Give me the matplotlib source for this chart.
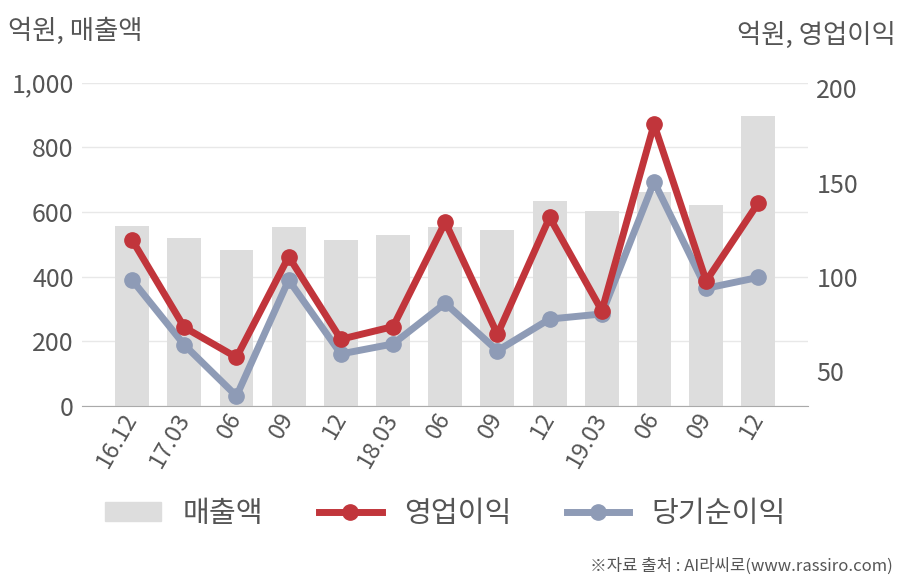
import matplotlib
matplotlib.use("Agg")
import matplotlib.pyplot as plt
from matplotlib.lines import Line2D
from matplotlib.patches import Patch, Rectangle
from matplotlib.legend_handler import HandlerPatch

plt.rcParams['font.family'] = ['Noto Sans CJK KR', 'DejaVu Sans']

categories = ["16.12", "17.03", "06", "09", "12", "18.03", "06", "09", "12", "19.03", "06", "09", "12"]
sales = [557, 520, 483, 555, 513, 529, 555, 544, 634, 603, 663, 622, 898]
op_profit = [119.6, 73.3, 57.4, 110.8, 67.0, 73.7, 129.1, 69.6, 131.6, 82.1, 180.9, 97.9, 139.4]
net_income = [98.4, 64.0, 36.9, 98.4, 59.2, 64.5, 86.1, 60.9, 77.7, 80.4, 150.5, 94.0, 99.8]
left_ticks = [0, 200, 400, 600, 800, 1000]
right_ticks = [50, 100, 150, 200]

bar_color = "#dddddd"
red = "#c1353b"
blue = "#8e9bb6"
txt = "#555555"

fig = plt.figure(figsize=(9.08, 5.8), dpi=100)
ax = fig.add_axes([82/908, 1-406/580, (808-82)/908, (406-82.7)/580])
x = list(range(len(categories)))
ax.bar(x, sales, width=0.65, color=bar_color, zorder=2)
ax.set_ylim(0, 1000)
ax.set_xlim(-0.96, 12.95)
ax.set_yticks(left_ticks)
ax.set_yticklabels([f"{v:,}" for v in left_ticks])
ax.grid(axis='y', color="#e8e8e8", linewidth=1, zorder=0)
ax.set_axisbelow(True)
for s in ['top', 'right', 'left']:
    ax.spines[s].set_visible(False)
ax.spines['bottom'].set_color("#aaaaaa")
ax.tick_params(axis='y', length=0, labelsize=18, labelcolor=txt, pad=6)
ax.tick_params(axis='x', length=0, labelsize=17, labelcolor=txt, pad=6)
ax.set_xticks(x)
ax.set_xticklabels(categories, rotation=60, ha='right', va='center', rotation_mode='anchor')

ax2 = ax.twinx()
ax2.set_ylim(31.6, 203)
ax2.plot(x, op_profit, color=red, lw=5, marker='o', ms=11, zorder=4)
ax2.plot(x, net_income, color=blue, lw=5, marker='o', ms=11, zorder=3)
ax2.set_yticks(right_ticks)
ax2.tick_params(axis='y', length=0, labelsize=18, labelcolor=txt, pad=6)
for s in ['top', 'right', 'left', 'bottom']:
    ax2.spines[s].set_visible(False)
ax.set_zorder(1)
ax2.set_zorder(2)
ax.patch.set_visible(False)

fig.text(8/908, 1-31/580, "억원, 매출액", fontsize=19, color=txt, va='center', ha='left')
fig.text(896/908, 1-35/580, "억원, 영업이익", fontsize=19, color=txt, va='center', ha='right')


def narrow_patch(legend, orig_handle, xdescent, ydescent, width, height, fontsize):
    shrink = width * 0.11
    return Rectangle((-xdescent + shrink, -ydescent), width - shrink, height)


handles = [Patch(color=bar_color),
           Line2D([], [], color=red, lw=5, marker='o', ms=11),
           Line2D([], [], color=blue, lw=5, marker='o', ms=11)]
fig.legend(handles, ["매출액", "영업이익", "당기순이익"], loc='center', bbox_to_anchor=(442/908, 1-514/580),
           ncol=3, frameon=False, fontsize=21, labelcolor=txt, handlelength=2.15, handleheight=0.65,
           columnspacing=1.9, handletextpad=0.75,
           handler_map={Patch: HandlerPatch(patch_func=narrow_patch)})

fig.text(893/908, 1-566/580, "※자료 출처 : AI라씨로(www.rassiro.com)", fontsize=12, color=txt, ha='right', va='center')

fig.savefig("out.png", dpi=100)
